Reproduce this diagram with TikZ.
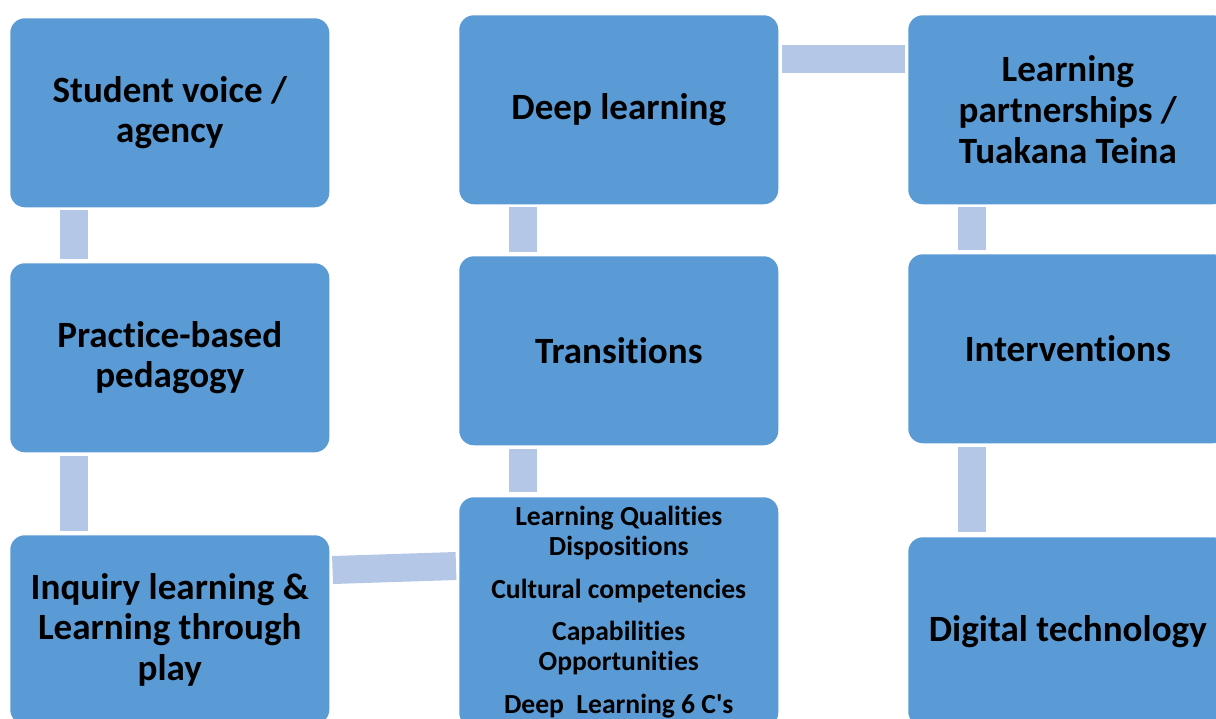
\documentclass[tikz,border=0pt]{standalone}
\usepackage{fontspec}
\setmainfont{Carlito}[Ligatures={NoCommon}]
\usetikzlibrary{calc}
\definecolor{boxblue}{HTML}{5B9BD5}
\definecolor{linkblue}{HTML}{B4C7E7}
\begin{document}
\begin{tikzpicture}[x=0.75pt,y=-0.75pt,
  card/.style={fill=boxblue, rounded corners=11pt, minimum width=239.25pt,
    minimum height=141.75pt, inner sep=0pt, anchor=north west, align=center,
    text=black, font=\bfseries\fontsize{27.8}{30.5}\selectfont},
  smallcard/.style={card, minimum height=172.5pt,
    font=\bfseries\fontsize{20.7}{22.5}\selectfont},
  link/.style={draw=linkblue, line width=21pt}]
\useasboundingbox (0,0) rectangle (1216,718);
\clip (0,0) rectangle (1216,718);

% left column
\node[card] (a1) at (10,18) {Student voice /\\agency};
\node[card] (a2) at (10,263) {Practice-based\\pedagogy};
\node[card] (a3) at (10,535) {Inquiry learning \&\\Learning through\\play};

% middle column
\node[card] (b1) at (459,15) {Deep learning};
\node[card] (b2) at (459,256) {Transitions};
\node[smallcard] (b3) at (459,497) {Learning Qualities\\Dispositions\\[9.5pt]
  Cultural competencies\\[9.5pt]Capabilities\\Opportunities\\[9.5pt]
  Deep\ \ Learning 6 C\textquotesingle s};

% right column
\node[card] (c1) at (908,15) {Learning\\partnerships /\\Tuakana Teina};
\node[card] (c2) at (908,254) {Interventions};
\node[card] (c3) at (908,537) {Digital technology};

% vertical links
\draw[link] ($(a1.south west)+(64,2)$) -- ($(a2.north west)+(64,-4)$);
\draw[link] ($(a2.south west)+(64,3)$) -- ($(a3.north west)+(64,-4)$);
\draw[link] ($(b1.south west)+(64,2)$) -- ($(b2.north west)+(64,-4)$);
\draw[link] ($(b2.south west)+(64,3)$) -- ($(b3.north west)+(64,-5)$);
\draw[link] ($(c1.south west)+(64,2)$) -- ($(c2.north west)+(64,-4)$);
\draw[link] ($(c2.south west)+(64,3)$) -- ($(c3.north west)+(64,-5)$);

% horizontal links
\draw[link] ($(b1.north east)+(3,44)$) -- ($(c1.north west)+(-3,44)$);
\draw[link] ($(a3.north east)+(3,35)$) -- ($(b3.north west)+(-3,69)$);
\end{tikzpicture}
\end{document}
